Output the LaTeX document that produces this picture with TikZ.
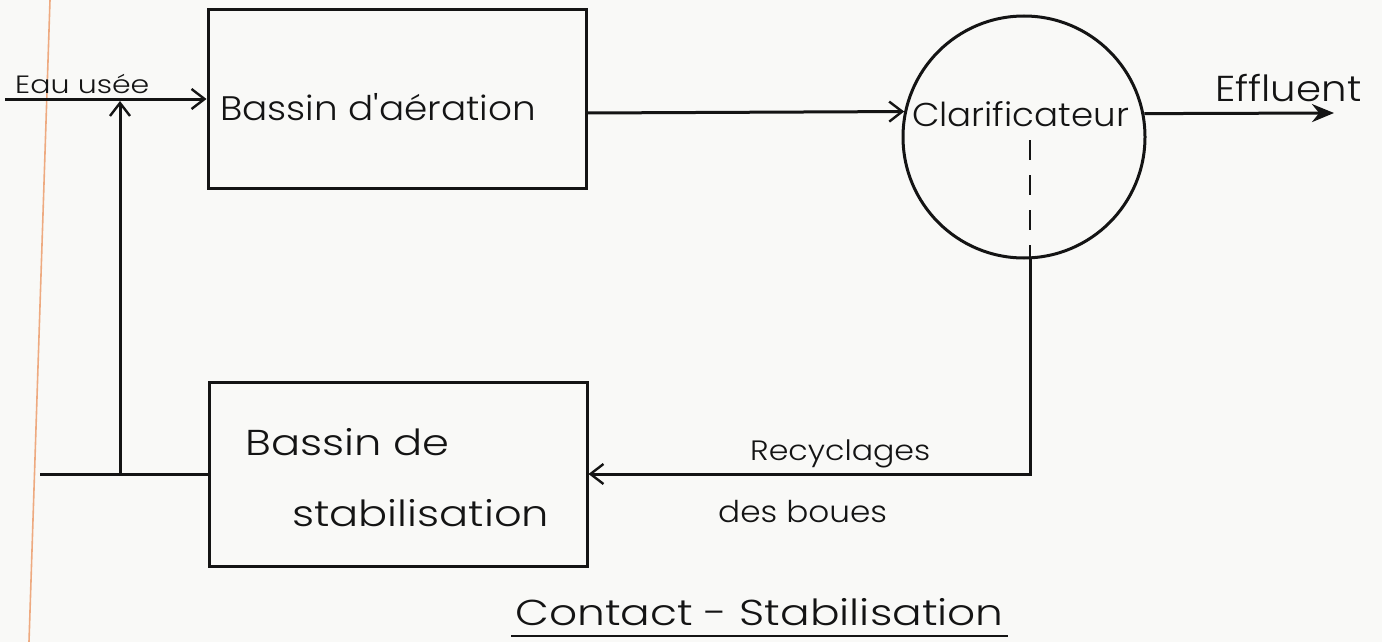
\documentclass[tikz,border=0pt]{standalone}
\usepackage{fontspec}
\newfontfamily\hand{Poppins Light}
\usetikzlibrary{arrows.meta,calc}
\definecolor{ink}{RGB}{20,20,20}
\definecolor{paper}{RGB}{249,249,247}
\definecolor{margin}{RGB}{238,170,128}
\newcommand{\fs}[1]{\hand\fontsize{#1}{#1}\selectfont}
\begin{document}
\begin{tikzpicture}[x=1pt,y=-1pt,
  pen/.style={draw=ink,line width=3pt},
  tank/.style={pen,rectangle,minimum width=378pt,inner sep=0pt},
  flow/.style={pen,-{Straight Barb[length=13pt,width=20pt,line width=2.4pt]}},
  lbl/.style={inner sep=0pt,text=ink,anchor=base west}]
% sheet
\fill[paper] (0,0) rectangle (1382,642);
\useasboundingbox (0,0) rectangle (1382,642);
\draw[margin,line width=1.6pt] (50,0) -- (29,642);

% units
\node[tank,minimum height=178pt] (aer) at (397,99) {};
\node[tank,minimum height=184pt] (stab) at (398,474) {};
\node[pen,circle,minimum size=242pt,inner sep=0pt] (clar) at (1024,137) {};

% free ends and junctions
\coordinate (src) at (5,99);
\coordinate (tee) at (120,474);
\coordinate (teeTop) at (120,101);
\coordinate (retEnd) at (40,474);
\coordinate (effEnd) at (1334,113);
\coordinate (dashTop) at (1030,140);
\coordinate (dashBot) at (1030,258);

% flows
\draw[flow] (src) -- (aer.west);
\draw[flow] ([yshift=-14pt]aer.east) -- (clar.168.6);
\draw[pen,-{Stealth[length=22pt,width=18pt]}] (clar.11.4) -- (effEnd);
\draw[pen,line width=2.4pt,dash pattern=on 20pt off 15pt] (dashTop) -- (dashBot);
\draw[flow] (dashBot) |- (stab.east);
\draw[pen] (retEnd) -- (stab.west);
\draw[flow] (tee) -- (teeTop);

% labels
\node[lbl,font=\fs{25},xscale=1.2] (inLbl) at (15,93) {Eau usée};
\node[lbl,font=\fs{34},xscale=1.1] (aerLbl) at (220,120) {Bassin d'aération};
\node[lbl,font=\fs{33},xscale=1.08] (clarLbl) at (912,126) {Clarificateur};
\node[lbl,font=\fs{36},xscale=1.12] (effLbl) at (1215,102) {Effluent};
\node[lbl,font=\fs{36},xscale=1.2] (stabLbl1) at (245,455) {Bassin de};
\node[lbl,font=\fs{36},xscale=1.2] (stabLbl2) at (292,526) {stabilisation};
\node[lbl,font=\fs{28},xscale=1.13] (recLbl1) at (750,460) {Recyclages};
\node[lbl,font=\fs{30},xscale=1.09] (recLbl2) at (718,522) {des boues};
\node[lbl,font=\fs{36},xscale=1.22] (cap) at (515,625) {Contact - Stabilisation};
\draw[pen,line width=2pt] ([yshift=-11pt,xshift=-4pt]cap.base west) -- ([yshift=-11pt,xshift=4pt]cap.base east);
\end{tikzpicture}
\end{document}
